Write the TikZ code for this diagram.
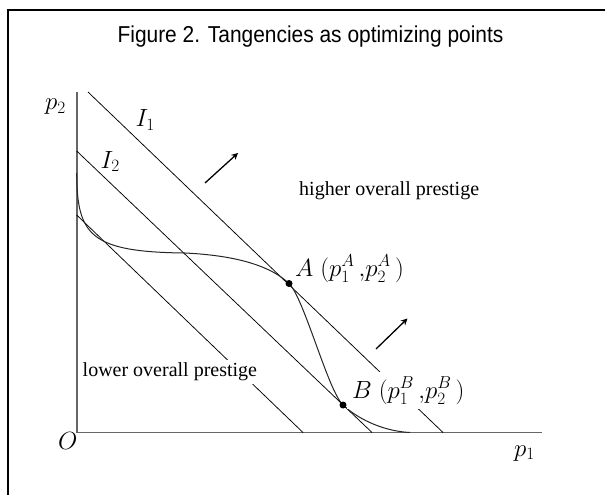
\documentclass[tikz,border=0pt]{standalone}
\usepackage{fontspec}
\newfontfamily\titlefont[FakeStretch=0.91]{Liberation Sans}
\newfontfamily\serifb{Liberation Serif}
\usetikzlibrary{arrows.meta}
\begin{document}
\begin{tikzpicture}[x=1pt,y=-1pt,
  thinline/.style={line width=0.75pt, black},
  curveline/.style={line width=1pt, black!85},
  axisline/.style={line width=1.6pt, black!60},
  dirarrow/.style={line width=1.3pt, -{Stealth[length=6.5pt,width=6.5pt]}},
  dotmark/.style={circle, fill=black, inner sep=0pt, minimum size=7pt},
  mathlbl/.style={font=\fontsize{24}{28}\selectfont, inner sep=0pt},
  txtlbl/.style={font=\serifb\fontsize{20}{24}\selectfont, inner sep=0pt},
]
\useasboundingbox (0,0) rectangle (605,495);
\fill[white] (0,0) rectangle (605,495);
\draw[line width=2pt] (8,495) -- (8,10) -- (605,10);

\node[font=\titlefont\fontsize{23}{27}\selectfont, anchor=base, inner sep=0pt] (title) at (310.5,43) {Figure 2. Tangencies as optimizing points};

% axes
\coordinate (origin) at (76.7,432.5);
\coordinate (ytop) at (76.7,92);
\coordinate (xend) at (542,432.5);
\draw[axisline] (ytop) -- (origin) -- (xend);

% lines
\coordinate (i1s) at (88,92);
\coordinate (i1e) at (443,432.5);
\coordinate (i2s) at (76.7,151);
\coordinate (i2e) at (372,432.5);
\coordinate (i3s) at (76.7,215);
\coordinate (i3e) at (303,432.5);
\draw[thinline] (i1s) -- (i1e);
\draw[thinline] (i2s) -- (i2e);
\draw[thinline] (i3s) -- (i3e);

% curve
\coordinate (c0) at (76.7,173);
\coordinate (c1) at (185,253);
\coordinate (ptA) at (289,283.5);
\coordinate (ptB) at (343,405);
\coordinate (c4) at (410,432.5);
\draw[curveline] (c0) .. controls (77,235) and (90,252) .. (c1)
  .. controls (215,254.5) and (264,259.5) .. (ptA)
  .. controls (304,297.9) and (328,390.7) .. (ptB)
  .. controls (355,416.5) and (380,431) .. (c4);

% arrows
\coordinate (a1s) at (205,183);
\coordinate (a1e) at (238,153);
\coordinate (a2s) at (376,349);
\coordinate (a2e) at (407.5,318.5);
\draw[dirarrow] (a1s) -- (a1e);
\draw[dirarrow] (a2s) -- (a2e);

% labels with white background
\node[txtlbl, anchor=base west, fill=white, inner sep=3pt] (lower) at (79.5,376.7) {lower overall prestige};
\node[mathlbl, anchor=base west, fill=white, inner sep=5pt] (labB) at (347,398) {$B\;(p^B_1\,{,}p^B_2\,)$};

\node[dotmark] (dotA) at (ptA) {};
\node[dotmark] (dotB) at (ptB) {};

\node[mathlbl, anchor=base west] (labA) at (295,276) {$A\;(p^A_1\,{,}p^A_2\,)$};
\node[txtlbl, anchor=base west] (higher) at (299,195) {higher overall prestige};

\node[mathlbl, anchor=base west, font=\fontsize{26}{30}\selectfont] (lp2) at (45,110) {$p_2$};
\node[mathlbl, anchor=base west] (lI1) at (135.5,126.5) {$I_1$};
\node[mathlbl, anchor=base west] (lI2) at (100.5,168) {$I_2$};
\node[mathlbl, anchor=base west] (lO) at (58,449) {$O$};
\node[mathlbl, anchor=base west] (lp1) at (514,456) {$p_1$};
\end{tikzpicture}
\end{document}
